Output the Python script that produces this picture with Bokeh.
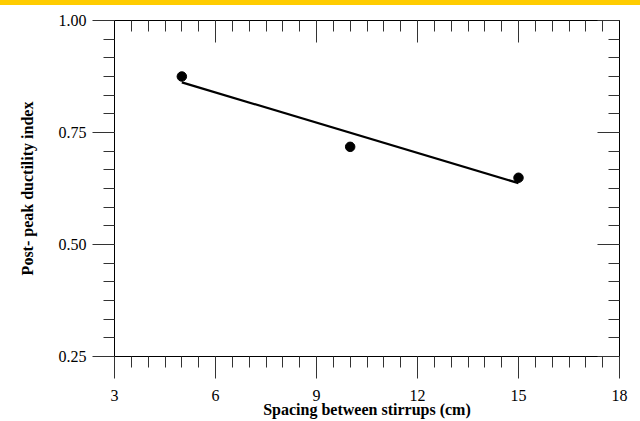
from bokeh.plotting import figure
from bokeh.models import LinearAxis, Range1d, SingleIntervalTicker, PrintfTickFormatter, Div
from bokeh.layouts import column
from bokeh.embed import file_html
from bokeh.resources import INLINE

# ---- data ----
spacing = [5, 10, 15]
ductility = [0.875, 0.718, 0.649]
fit_spacing = [5, 15]
fit_ductility = [0.862, 0.637]
x_label = "Spacing between stirrups (cm)"
y_label = "Post- peak ductility index"

SERIF = "Liberation Serif"
STRIP = 5
W, H = 640, 421 - STRIP
B_LEFT, B_RIGHT, B_TOP, B_BOTTOM = 114, 21, 20 - STRIP, 65

p = figure(width=W, height=H,
           x_range=Range1d(3, 18), y_range=Range1d(0.25, 1.0),
           output_backend="svg", toolbar_location=None,
           x_axis_location=None, y_axis_location=None,
           min_border_left=B_LEFT, min_border_right=B_RIGHT,
           min_border_top=B_TOP, min_border_bottom=B_BOTTOM,
           margin=0)
p.outline_line_color = None
p.background_fill_color = "white"
p.border_fill_color = "white"
p.xgrid.visible = False
p.ygrid.visible = False

xt = SingleIntervalTicker(interval=3, num_minor_ticks=6)
yt = SingleIntervalTicker(interval=0.25, num_minor_ticks=6)


def style(ax, outward, labels):
    ax.axis_line_color = "black"
    ax.axis_line_width = 1
    ax.major_tick_line_color = "#333333"
    ax.minor_tick_line_color = "#333333"
    if outward:
        ax.major_tick_out, ax.major_tick_in = 22, 0
        ax.minor_tick_out, ax.minor_tick_in = 11, 0
    else:
        ax.major_tick_out, ax.major_tick_in = 0, 22
        ax.minor_tick_out, ax.minor_tick_in = 0, 11
    if labels:
        ax.major_label_text_font = SERIF
        ax.major_label_text_font_size = "16px"
        ax.major_label_text_color = "black"
        ax.axis_label_text_font = SERIF
        ax.axis_label_text_font_style = "bold"
        ax.axis_label_text_font_size = "16px"
        ax.axis_label_text_color = "black"
    else:
        ax.major_label_text_color = None
        ax.major_label_text_alpha = 0
        ax.major_label_text_font_size = "0px"
        ax.major_label_standoff = 0


bottom = LinearAxis(ticker=xt, axis_label=x_label)
style(bottom, True, True)
bottom.major_label_standoff = 11
bottom.axis_label_standoff = -3
p.add_layout(bottom, "below")

left = LinearAxis(ticker=yt, axis_label=y_label,
                  formatter=PrintfTickFormatter(format="%.2f"))
style(left, True, True)
left.major_label_standoff = 6
left.axis_label_standoff = 20
p.add_layout(left, "left")

top = LinearAxis(ticker=xt)
style(top, False, False)
p.add_layout(top, "above")

right = LinearAxis(ticker=yt)
style(right, False, False)
p.add_layout(right, "right")

p.line(fit_spacing, fit_ductility, line_color="black", line_width=2.2)
p.scatter(spacing, ductility, marker="circle", size=9.5,
          fill_color="black", line_color="black")

# yellow strip along the top edge of the page
strip = Div(text="", width=W, height=STRIP, margin=0,
            styles={"background-color": "#FFCC00"})

layout = column(strip, p, spacing=0, margin=0)

open("out.html", "w").write(file_html(layout, INLINE))
